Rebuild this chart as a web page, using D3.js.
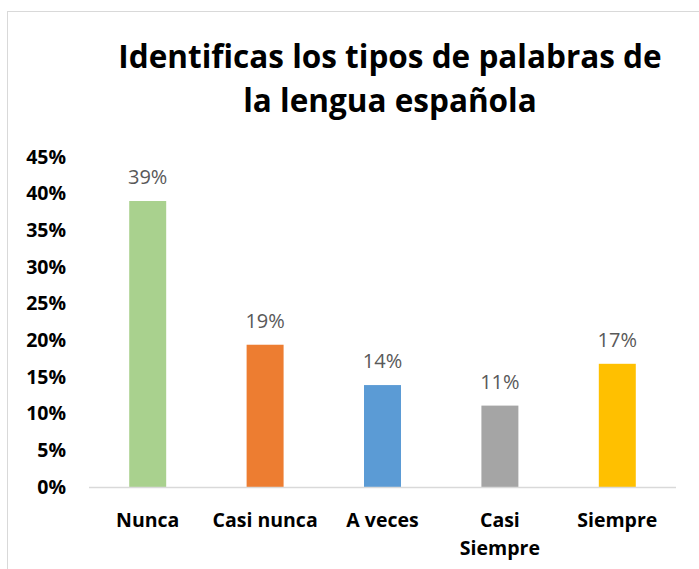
<!DOCTYPE html>
<html>
<head>
<meta charset="utf-8">
<script src="https://cdn.jsdelivr.net/npm/d3@7"></script>
<style>
  body { margin: 0; background: #fff; }
  text { font-family: "Open Sans", "Noto Sans", sans-serif; }
</style>
</head>
<body>
<svg id="chart" width="699" height="569"></svg>
<script>
// chart data
var titleLines = ["Identificas los tipos de palabras de", "la lengua española"];
var categories = ["Nunca", "Casi nunca", "A veces", "Casi Siempre", "Siempre"];
var values = [0.39, 0.194, 0.139, 0.111, 0.168];
var colors = ["#a9d18e", "#ed7d31", "#5b9bd5", "#a5a5a5", "#ffc000"];
var yTicks = [0, 0.05, 0.1, 0.15, 0.2, 0.25, 0.3, 0.35, 0.4, 0.45];

var svg = d3.select("#chart");

// outer chart border (only top and left are inside the window)
svg.append("rect")
    .attr("x", 7.5).attr("y", 11.5)
    .attr("width", 720).attr("height", 600)
    .attr("fill", "none")
    .attr("stroke", "#d9d9d9");

var margin = {left: 89, right: 23, top: 157, bottom: 82};
var width = 699 - margin.left - margin.right,
    height = 569 - margin.top - margin.bottom;

var x = d3.scaleBand().domain(categories).range([margin.left, margin.left + width]).paddingInner(0.685).paddingOuter(0.3425);
var y = d3.scaleLinear().domain([0, 0.45]).range([margin.top + height, margin.top]);

// title
svg.append("g").selectAll("text")
    .data(titleLines).enter().append("text")
    .attr("x", 390)
    .attr("y", function (d, i) { return 68 + i * 44; })
    .attr("text-anchor", "middle")
    .attr("font-size", 31.5)
    .attr("font-weight", "bold")
    .attr("fill", "#000")
    .text(function (d) { return d; });

// y axis
var yAxis = d3.axisLeft(y).tickValues(yTicks).tickFormat(d3.format(".0%")).tickSize(0).tickPadding(0);
var yg = svg.append("g").attr("transform", "translate(66,0)").call(yAxis);
yg.select(".domain").remove();
yg.selectAll("text")
    .attr("font-size", 19.5).attr("font-weight", "bold").attr("fill", "#000")
    .attr("font-family", "'Open Sans', sans-serif");

// bars
svg.append("g").selectAll("rect")
    .data(values).enter().append("rect")
    .attr("x", function (d, i) { return x(categories[i]); })
    .attr("y", function (d) { return y(d); })
    .attr("width", x.bandwidth())
    .attr("height", function (d) { return y(0) - y(d); })
    .attr("fill", function (d, i) { return colors[i]; });

// data labels
svg.append("g").selectAll("text")
    .data(values).enter().append("text")
    .attr("x", function (d, i) { return x(categories[i]) + x.bandwidth() / 2; })
    .attr("y", function (d) { return y(d) - 17; })
    .attr("text-anchor", "middle")
    .attr("font-size", 20)
    .attr("fill", "#595959")
    .text(function (d) { return Math.round(d * 100) + "%"; });

// baseline
svg.append("line")
    .attr("x1", margin.left).attr("x2", margin.left + width)
    .attr("y1", y(0) + 0.5).attr("y2", y(0) + 0.5)
    .attr("stroke", "#d9d9d9").attr("stroke-width", 1.5);

// category labels (wrap "Casi Siempre")
var xl = svg.append("g").selectAll("text")
    .data(categories).enter().append("text")
    .attr("x", function (d) { return x(d) + x.bandwidth() / 2; })
    .attr("y", 527)
    .attr("text-anchor", "middle")
    .attr("font-size", 19.5)
    .attr("font-weight", "bold")
    .attr("fill", "#000");
xl.each(function (d) {
    var lines = d === "Casi Siempre" ? ["Casi", "Siempre"] : [d];
    var t = d3.select(this);
    lines.forEach(function (l, i) {
        t.append("tspan").attr("x", t.attr("x")).attr("dy", i ? 28 : 0).text(l);
    });
});
</script>
</body>
</html>
